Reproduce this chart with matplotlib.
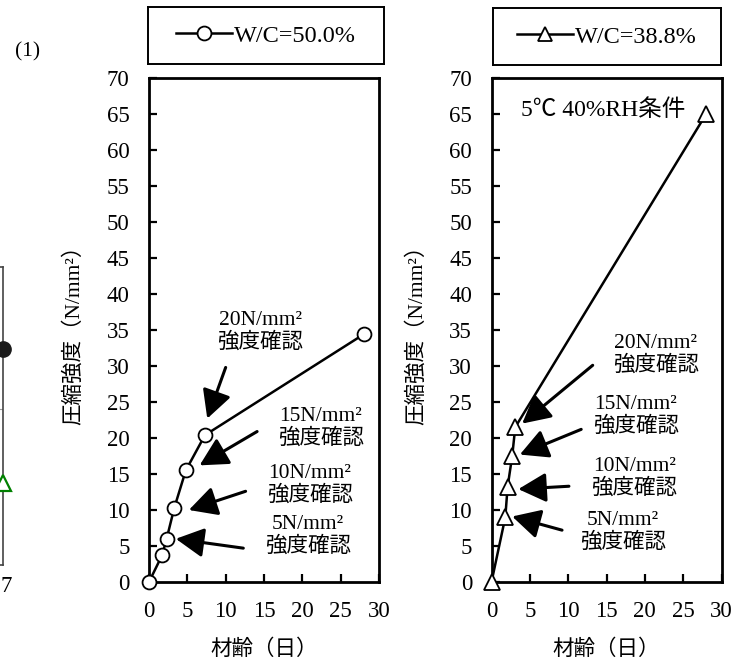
import matplotlib
matplotlib.use("Agg")
import matplotlib.pyplot as plt
from matplotlib.lines import Line2D
from matplotlib.transforms import ScaledTranslation

plt.rcParams['font.family'] = ['Liberation Serif', 'Noto Sans CJK JP', 'DejaVu Sans']
plt.rcParams['mathtext.fontset'] = 'stix'

# ---------------- data ----------------
age_50 = [0, 1.7, 2.3, 3.3, 4.8, 7.3, 28]
str_50 = [0, 3.7, 6.0, 10.3, 15.5, 20.4, 34.4]
age_388 = [0, 1.8, 2.1, 2.7, 3.1, 28]
str_388 = [0, 9.0, 13.2, 17.5, 21.5, 65.0]

label_50 = "W/C=50.0%"
label_388 = "W/C=38.8%"

ann_labels = ["20N/mm²\n強度確認", "15N/mm²\n強度確認", "10N/mm²\n強度確認", "5N/mm²\n強度確認"]
# text positions and arrow (tail -> head) in data coords
ann_text_50 = [(8.9, 34.8), (16.8, 21.4), (15.4, 13.5), (15.1, 6.4)]
ann_tail_50 = [(10.0, 29.8), (14.1, 20.9), (12.6, 12.6), (12.3, 4.7)]
ann_head_50 = [(7.6, 22.7), (6.6, 16.2), (5.2, 10.0), (3.5, 6.0)]
ann_text_388 = [(15.8, 31.5), (13.2, 23.1), (13.0, 14.5), (11.5, 6.9)]
ann_tail_388 = [(13.2, 30.1), (11.7, 21.2), (10.1, 13.3), (9.2, 7.2)]
ann_head_388 = [(4.0, 22.0), (3.7, 17.7), (3.5, 12.9), (2.7, 9.1)]

# partial left panel (cropped)
part_x = [7]
part_circle = [29]
part_tri = [11]
part_grid = 21

xticks = [0, 5, 10, 15, 20, 25, 30]
yticks = list(range(0, 75, 5))
ylabel = "圧縮強度（N/mm²）"
xlabel = "材齢（日）"
cond_text = "5℃ 40%RH条件"

W, H = 749, 662
fig = plt.figure(figsize=(W / 100, H / 100), dpi=100)


def frac(x0, y0, x1, y1):
    return [x0 / W, 1 - y1 / H, (x1 - x0) / W, (y1 - y0) / H]


def style_axes(ax):
    ax.set_xlim(0, 30)
    ax.set_ylim(0, 70)
    ax.set_xticks(xticks)
    ax.set_yticks(yticks)
    ax.tick_params(direction='in', length=6, width=1.6, labelsize=16.5)
    ax.tick_params(axis='x', pad=14)
    ax.tick_params(axis='y', pad=14)
    for s in ax.spines.values():
        s.set_linewidth(2.0)
    ax.set_xlabel(xlabel, fontsize=15.5, labelpad=12)
    ax.set_ylabel(ylabel, fontsize=15.5, labelpad=16)


def annotate(ax, texts, tails, heads):
    for lab, tp, tl, hd in zip(ann_labels, texts, tails, heads):
        ax.text(tp[0], tp[1], lab, fontsize=15.5, ha='left', va='center',
                linespacing=1.15, multialignment='center')
        ax.annotate("", xy=hd, xytext=tl,
                    arrowprops=dict(arrowstyle='-|>,head_length=0.95,head_width=0.5',
                                    color='black', lw=2.2, shrinkA=0, shrinkB=0,
                                    mutation_scale=18))


# ---- left main panel ----
ax1 = fig.add_axes(frac(149, 78, 379, 582))
style_axes(ax1)
line1, = ax1.plot(age_50, str_50, color='black', lw=1.8, marker='o', ms=10,
                  mfc='white', mec='black', mew=1.3, clip_on=False, zorder=5)
annotate(ax1, ann_text_50, ann_tail_50, ann_head_50)

# ---- right main panel ----
ax2 = fig.add_axes(frac(491.5, 78, 721.5, 582))
style_axes(ax2)
line2, = ax2.plot(age_388, str_388, color='black', lw=1.8, marker='^', ms=11,
                  mfc='white', mec='black', mew=1.3, clip_on=False, zorder=5)
annotate(ax2, ann_text_388, ann_tail_388, ann_head_388)
ax2.text(3.8, 65.6, cond_text, fontsize=17, ha='left', va='center')

# ---- legend boxes ----
for box, ln, lab in [((148, 7, 384, 64), line1, label_50), ((493, 8, 721, 65), line2, label_388)]:
    lax = fig.add_axes(frac(*box))
    lax.set_xticks([])
    lax.set_yticks([])
    for s in lax.spines.values():
        s.set_linewidth(1.4)
    lax.legend(handles=[Line2D([], [], color='black', lw=1.8, marker=ln.get_marker(),
                               ms=10, mfc='white', mec='black', mew=1.3)],
               labels=[lab], loc='center', frameon=False, fontsize=17.5,
               handlelength=2.3, handletextpad=0.1)

# ---- cropped panel at far left ----
ax0 = fig.add_axes(frac(-60, 267, 3, 565))
ax0.set_xlim(0, 7)
ax0.set_ylim(0, 40)
ax0.set_xticks([7])
ax0.set_xticklabels(["7"])
ax0.set_yticks([])
ax0.tick_params(length=0, labelsize=16.5, pad=8)
for lbl in ax0.get_xticklabels():
    lbl.set_transform(lbl.get_transform() + ScaledTranslation(2.5 / 72, 0, fig.dpi_scale_trans))
for s in ax0.spines.values():
    s.set_linewidth(1.2)
    s.set_color('#444444')
ax0.axhline(part_grid, color='#999999', lw=0.8)
ax0.plot(part_x, part_circle, marker='o', ms=11, color='#1a1a1a', ls='none', clip_on=False, zorder=5)
ax0.plot(part_x, part_tri, marker='^', ms=11, mfc='white', mec='green', mew=1.6,
         ls='none', clip_on=False, zorder=5)

fig.text(28 / W, 1 - 52 / H, "(1)", fontsize=15.5, ha='center', va='center')

fig.savefig("out.png", dpi=100)
